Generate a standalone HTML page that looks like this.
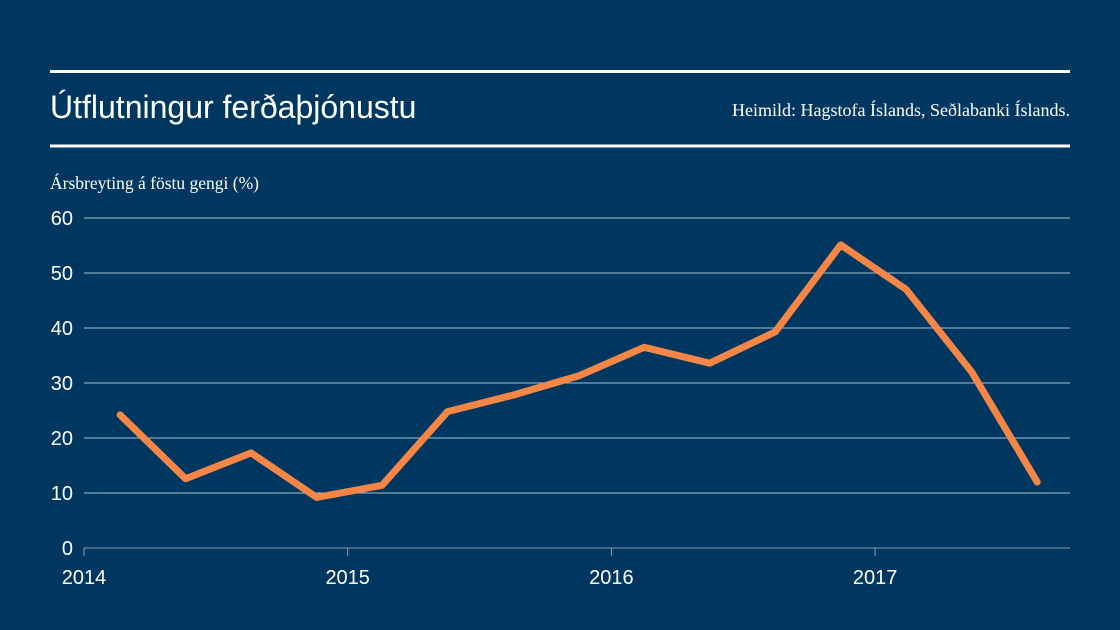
<!DOCTYPE html>
<html><head><meta charset="utf-8"><style>
body{margin:0;background:#003760;}
svg{display:block}
text{font-family:"Liberation Sans",sans-serif;fill:#fff}
</style></head><body>
<svg id="c" width="1120" height="630">
<rect width="1120" height="630" fill="#003760"/>
<line x1="50" y1="71.5" x2="1070" y2="71.5" stroke="#fff" stroke-width="3"/>
<line x1="50" y1="146" x2="1070" y2="146" stroke="#fff" stroke-width="3"/>
<text x="50" y="118" font-size="32">Útflutningur ferðaþjónustu</text>
<text x="1070" y="116" font-size="18" text-anchor="end" style="font-family:'Liberation Serif',serif">Heimild: Hagstofa Íslands, Seðlabanki Íslands.</text>
<text x="50" y="189" font-size="17.5" style="font-family:'Liberation Serif',serif">Ársbreyting á föstu gengi (%)</text>
<g id="grid"></g><g id="series"></g>
</svg>
<script>
const yTicks=[0,10,20,30,40,50,60];
const years=[2014,2015,2016,2017];
const startTime=2014.137;
const stepTime=0.2484;
const values=[24.2,12.6,17.3,9.2,11.4,24.8,27.8,31.3,36.5,33.6,39.3,55.1,47.0,32.0,12.0];
const ns="http://www.w3.org/2000/svg";
const y=v=>548-v*5.5;
const x=t=>84+(t-2014)*263.7;
const g=document.getElementById('grid'),s=document.getElementById('series');
function mk(tag,a,p){const e=document.createElementNS(ns,tag);for(const k in a)e.setAttribute(k,a[k]);p.appendChild(e);return e;}
yTicks.forEach(v=>{
 const l=mk('line',{x1:84,x2:1070,y1:y(v),y2:y(v),stroke:v===0?'#8a9bb0':'#a8bdd3','stroke-width':1},g);
 
 
 const t=mk('text',{x:73,y:y(v)+7,'font-size':20,'text-anchor':'end'},g);t.textContent=v;
 
 
});
years.forEach(yr=>{
 const l=mk('line',{x1:x(yr),x2:x(yr),y1:548,y2:556,stroke:'#8a9bb0'},g);
 
 
 const t=mk('text',{x:x(yr),y:584,'font-size':20,'text-anchor':'middle'},g);t.textContent=yr;
 
 
});
const pts=values.map((v,i)=>x(startTime+stepTime*i).toFixed(1)+','+y(v).toFixed(1)).join(' ');
const pl=mk('polyline',{points:pts,fill:'none',stroke:'#f58646','stroke-width':7,'stroke-linejoin':'round','stroke-linecap':'round'},s);


</script>
</body></html>
